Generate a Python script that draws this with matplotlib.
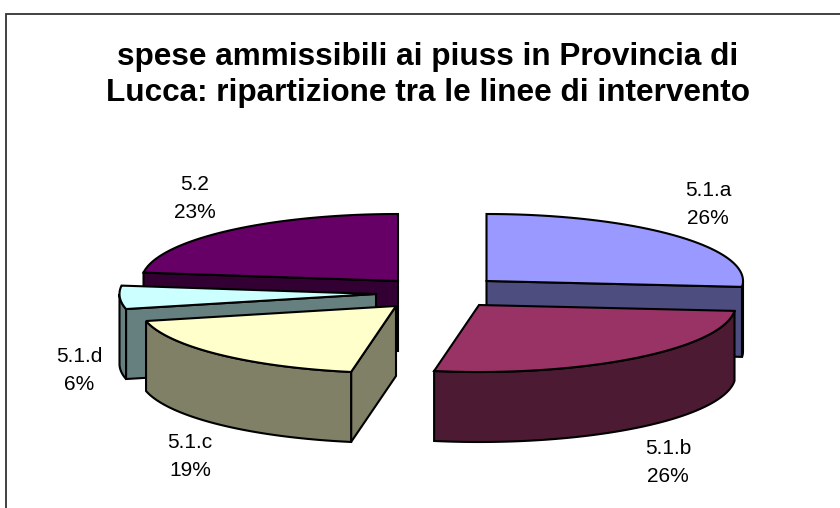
import numpy as np
import matplotlib
matplotlib.use("Agg")
import matplotlib.pyplot as plt
from matplotlib.patches import Polygon

plt.rcParams['font.family'] = ['Liberation Sans', 'DejaVu Sans']

title = "spese ammissibili ai piuss in Provincia di\nLucca: ripartizione tra le linee di intervento"
categories = ["5.1.a", "5.1.b", "5.1.c", "5.1.d", "5.2"]
values = [26.4, 26.4, 18.6, 5.6, 23.0]
top_colors = ["#9999FF", "#993366", "#FFFFCC", "#CCFFFF", "#660066"]
side_colors = ["#4D4D80", "#4D1A33", "#808066", "#668080", "#330033"]
apexes = [(486.5, 281), (479, 305), (396, 306), (376, 294), (398, 281)]
label_pos = [(708, 204), (668, 463), (190, 457), (79, 371), (195, 198)]

RX, RY, DEPTH = 256.5, 67, 70
LW = 1.5

fig = plt.figure(figsize=(8.4, 5.08), dpi=100, facecolor="white")
ax = fig.add_axes([0, 0, 1, 1])
ax.set_xlim(0, 840)
ax.set_ylim(508, 0)
ax.axis("off")

# chart frame
ax.plot([5.5, 5.5, 840], [508, 13.5, 13.5], color="#333333", lw=1.3, solid_joinstyle="miter", zorder=1)


def rim(apex, a0, a1):
    t = np.radians(np.linspace(a0, a1, max(2, int(abs(a1 - a0) * 2))))
    return np.column_stack([apex[0] + RX * np.sin(t), apex[1] - RY * np.cos(t)])


def poly(pts, color, z):
    ax.add_patch(Polygon(pts, closed=True, facecolor=color, edgecolor="black",
                         lw=LW, joinstyle="miter", zorder=z))


edges = np.concatenate([[0], np.cumsum(values)]) / np.sum(values) * 360
order = [4, 0, 3, 2, 1]
for z, i in enumerate(order):
    base = 2 + z * 3
    a0, a1 = edges[i], edges[i + 1]
    apex = np.array(apexes[i], float)
    down = np.array([0, DEPTH])

    # radial walls facing the viewer
    for ang in (a0, a1):
        p = rim(apex, ang, ang)[0]
        facing = (ang == a1 and np.sin(np.radians(ang)) > 0) or (ang == a0 and np.sin(np.radians(ang)) < 0)
        if facing:
            poly([apex, p, p + down, apex + down], side_colors[i], base)

    # outer rim wall: only the front half of the ellipse shows
    lo, hi = max(a0, 90), min(a1, 270)
    if hi > lo:
        r = rim(apex, lo, hi)
        poly(np.vstack([r, (r + down)[::-1]]), side_colors[i], base + 1)

    # top face
    r = rim(apex, a0, a1)
    poly(np.vstack([[apex], r]), top_colors[i], base + 2)

total = sum(values)
for cat, v, (x, y) in zip(categories, values, label_pos):
    ax.text(x, y, f"{cat}\n{round(v / total * 100)}%", ha="center", va="center",
            multialignment="center", fontsize=15, color="black", linespacing=1.6, zorder=50)

ax.text(428, 75, title, ha="center", va="center", multialignment="center",
        fontsize=22.7, fontweight="bold", color="black", linespacing=1.26, zorder=50)

fig.savefig("out.png", dpi=100)
